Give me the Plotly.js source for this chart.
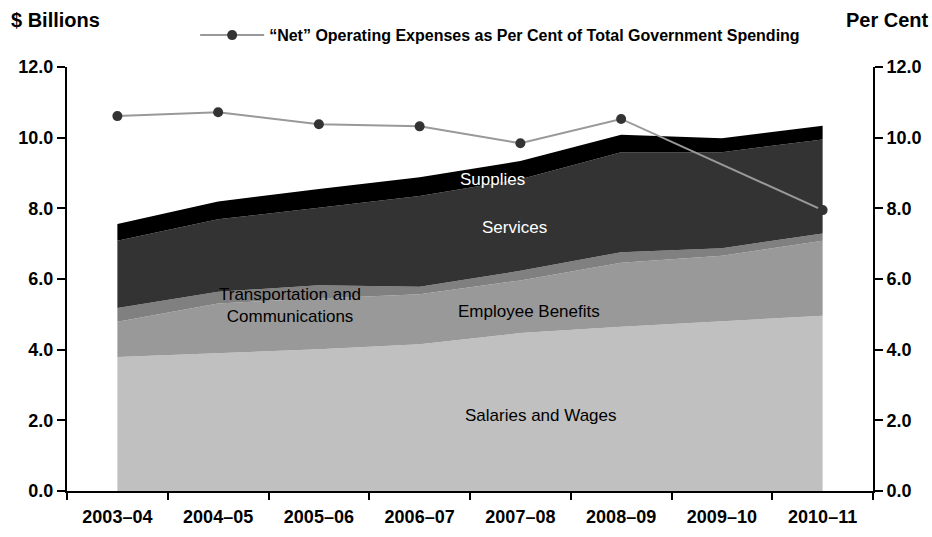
<!DOCTYPE html>
<html>
<head>
<meta charset="utf-8">
<script src="https://cdn.plot.ly/plotly-3.0.1.min.js"></script>
<style>html,body{margin:0;padding:0;background:#fff}#chart{width:932px;height:537px}</style>
</head>
<body>
<div id="chart"></div>
<script>
const years = ["2003–04","2004–05","2005–06","2006–07","2007–08","2008–09","2009–10","2010–11"];
const salaries = [3.79, 3.90, 4.01, 4.15, 4.47, 4.65, 4.81, 4.96];
const employeeBenefits = [1.00, 1.41, 1.44, 1.42, 1.49, 1.81, 1.85, 2.12];
const transportation = [0.39, 0.33, 0.37, 0.21, 0.27, 0.30, 0.21, 0.21];
const services = [1.90, 2.05, 2.20, 2.57, 2.59, 2.83, 2.72, 2.66];
const supplies = [0.48, 0.50, 0.53, 0.53, 0.52, 0.49, 0.39, 0.39];
const netPercent = [10.61, 10.72, 10.38, 10.32, 9.84, 10.53, null, 7.95];
const yTicks = [0, 2, 4, 6, 8, 10, 12];

const FONT = '"Liberation Sans", Arial, "DejaVu Sans", sans-serif';

function area(name, vals, color) {
  return {x: years, y: vals, name: name, type: 'scatter', mode: 'lines',
    stackgroup: 'one', line: {width: 0, color: color}, fillcolor: color,
    showlegend: false, hoverinfo: 'skip'};
}
const data = [
  area('Salaries and Wages', salaries, '#c0c0c0'),
  area('Employee Benefits', employeeBenefits, '#999999'),
  area('Transportation and Communications', transportation, '#808080'),
  area('Services', services, '#333333'),
  area('Supplies', supplies, '#000000'),
  {x: years, y: netPercent, yaxis: 'y2', type: 'scatter', mode: 'lines+markers',
   name: '“Net” Operating Expenses as Per Cent of Total Government Spending',
   connectgaps: true, line: {color: '#999999', width: 2},
   marker: {color: '#333333', size: 10}}
];

const tickFont = {family: FONT, size: 18, color: '#000', weight: 'bold'};
const layout = {
  width: 932, height: 537,
  margin: {l: 67, r: 59, t: 67, b: 46},
  paper_bgcolor: '#fff', plot_bgcolor: '#fff',
  font: {family: FONT, color: '#000'},
  showlegend: true,
  legend: {orientation: 'h', x: 0.159, y: 1.075, xanchor: 'left', yanchor: 'middle',
    itemwidth: 64,
    font: {family: FONT, size: 16, color: '#000', weight: 'bold'}, bgcolor: 'rgba(0,0,0,0)'},
  xaxis: {type: 'category', range: [-0.5, 7.5], tickson: 'boundaries',
    showline: true, linecolor: '#000', linewidth: 2, ticks: 'outside', ticklen: 7,
    tickwidth: 2, tickcolor: '#000', showgrid: false, zeroline: false,
    ticklabelstandoff: 8, tickfont: tickFont, fixedrange: true},
  yaxis: {range: [0, 12], tickvals: yTicks, tickformat: '.1f', showline: true,
    linecolor: '#000', linewidth: 2, ticks: 'outside', ticklen: 8, tickwidth: 2,
    tickcolor: '#000', showgrid: false, zeroline: false, tickfont: tickFont},
  yaxis2: {range: [0, 12], tickvals: yTicks, tickformat: '.1f', overlaying: 'y', side: 'right',
    showline: true, linecolor: '#000', linewidth: 2, ticks: 'outside', ticklen: 8, tickwidth: 2,
    tickcolor: '#000', showgrid: false, zeroline: false, tickfont: tickFont},
  annotations: [
    {text: '<b>$ Billions</b>', xref: 'paper', yref: 'paper', x: -0.072, y: 1.111, xanchor: 'left', yanchor: 'middle', showarrow: false, font: {family: FONT, size: 20, color: '#000'}},
    {text: '<b>Per Cent</b>', xref: 'paper', yref: 'paper', x: 1.072, y: 1.111, xanchor: 'right', yanchor: 'middle', showarrow: false, font: {family: FONT, size: 20, color: '#000'}},
    {text: 'Salaries and Wages', xref: 'x', yref: 'y', x: 4.2, y: 2.15, showarrow: false, font: {family: FONT, size: 17, color: '#000'}},
    {text: 'Employee Benefits', xref: 'x', yref: 'y', x: 4.09, y: 5.09, showarrow: false, font: {family: FONT, size: 17, color: '#000'}},
    {text: 'Transportation and<br>Communications', xref: 'x', yref: 'y', x: 1.71, y: 5.26, showarrow: false, font: {family: FONT, size: 17, color: '#000'}},
    {text: 'Services', xref: 'x', yref: 'y', x: 3.94, y: 7.47, showarrow: false, font: {family: FONT, size: 17, color: '#fff'}},
    {text: 'Supplies', xref: 'x', yref: 'y', x: 3.72, y: 8.83, showarrow: false, font: {family: FONT, size: 17, color: '#fff'}}
  ]
};
Plotly.newPlot('chart', data, layout, {displayModeBar: false, staticPlot: true});
</script>
</body>
</html>
